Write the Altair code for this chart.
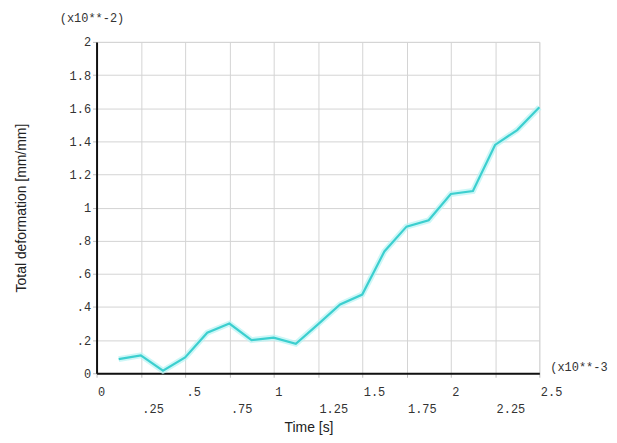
import altair as alt
import pandas as pd

time_s = [0.125, 0.25, 0.375, 0.5, 0.625, 0.75, 0.875, 1.0, 1.125, 1.25,
          1.375, 1.5, 1.625, 1.75, 1.875, 2.0, 2.125, 2.25, 2.375, 2.5]
deformation = [0.085, 0.108, 0.015, 0.095, 0.245, 0.30, 0.20, 0.215, 0.178, 0.295,
               0.415, 0.475, 0.735, 0.885, 0.923, 1.082, 1.10, 1.378, 1.468, 1.605]
x_ticks = [0, 0.25, 0.5, 0.75, 1.0, 1.25, 1.5, 1.75, 2.0, 2.25, 2.5]
y_ticks = [0, 0.2, 0.4, 0.6, 0.8, 1.0, 1.2, 1.4, 1.6, 1.8, 2.0]
y_exponent = "(x10**-2)"
x_exponent = "(x10**-3"

df = pd.DataFrame({"t": time_s, "d": deformation})

W, H = 445, 333
MONO = "Liberation Mono"
SANS = "Liberation Sans"

x_enc = alt.X(
    "t:Q",
    scale=alt.Scale(domain=[0, 2.5], nice=False, zero=False),
    axis=alt.Axis(
        values=x_ticks,
        title="Time [s]",
        titleFont=SANS, titleFontSize=14, titleFontWeight="normal", titleColor="#222",
        titleX=213, titleY=55, titleBaseline="middle", titleAlign="center",
        labelExpr="(round(datum.value*100) % 50 == 0) ? (datum.value > 0 && datum.value < 1 ? slice(format(datum.value, '.2~f'), 1) : format(datum.value, '.2~f')) : ['', datum.value < 1 ? slice(format(datum.value, '.2~f'), 1) : format(datum.value, '.2~f')]",
        labelFont=MONO, labelFontSize=12, labelColor="#333",
        labelAlign="left", labelBaseline="top", labelOffset=1,
        labelLineHeight=17, labelPadding=9, labelOverlap=False, labelFlush=False,
        tickSize=4, tickColor="#bbb",
        domainColor="#111", domainWidth=2,
        grid=True, gridColor="#d4d4d4", gridWidth=1,
    ),
)
y_enc = alt.Y(
    "d:Q",
    scale=alt.Scale(domain=[0, 2], nice=False, zero=False),
    axis=alt.Axis(
        values=y_ticks, tickCount=11,
        title="Total deformation [mm/mm]",
        titleFont=SANS, titleFontSize=14, titleFontWeight="normal", titleColor="#222",
        titleX=-75, titleY=H / 2, titleBaseline="middle", titleAlign="center", titleAngle=-90,
        labelExpr="datum.value > 0 && datum.value < 1 ? slice(format(datum.value, '.1~f'), 1) : format(datum.value, '.1~f')",
        labelFont=MONO, labelFontSize=12, labelColor="#333",
        labelPadding=2, tickSize=4, tickColor="#bbb", labelOverlap=False, labelFlush=False,
        domainColor="#111", domainWidth=2,
        grid=True, gridColor="#d4d4d4", gridWidth=1,
    ),
)

base = alt.Chart(df).encode(x=x_enc, y=y_enc)
glow = base.mark_line(color="#b8f4f4", strokeWidth=6, opacity=0.7)
line = base.mark_line(color="#3ccfcf", strokeWidth=2.2)

top_note = alt.Chart(pd.DataFrame({"label": [y_exponent]})).mark_text(
    font=MONO, fontSize=12, color="#333", align="left", baseline="middle"
).encode(text="label:N", x=alt.value(-37), y=alt.value(-24))
right_note = alt.Chart(pd.DataFrame({"label": [x_exponent]})).mark_text(
    font=MONO, fontSize=12, color="#333", align="left", baseline="middle"
).encode(text="label:N", x=alt.value(W + 11), y=alt.value(H - 6))

chart = alt.layer(glow, line, top_note, right_note).properties(
    width=W, height=H,
    autosize=alt.AutoSizeParams(type="none"),
    padding={"left": 89, "top": 33, "right": 70, "bottom": 61},
).configure_view(strokeWidth=0).configure(background="white")

chart.save("out.html", embed_options={"renderer": "svg", "actions": False})
